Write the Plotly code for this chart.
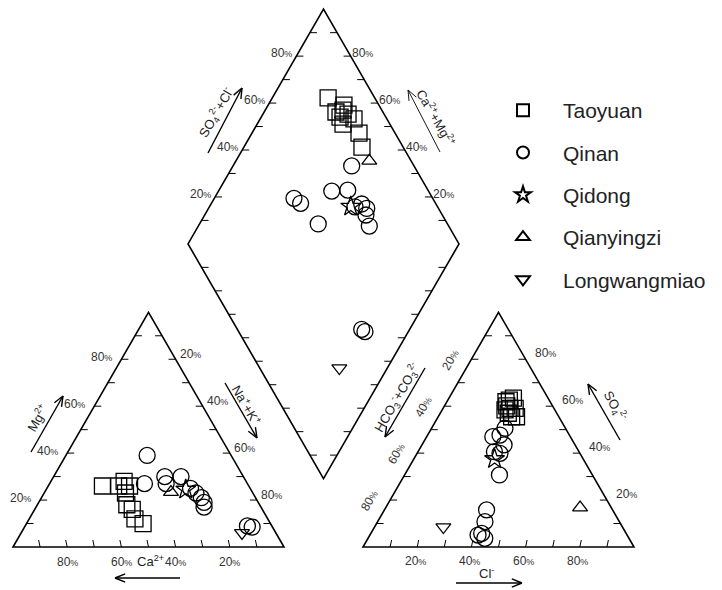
import math
import plotly.graph_objects as go

# ---------------- data (percent) ----------------
series_names = ["Taoyuan", "Qinan", "Qidong", "Qianyingzi", "Longwangmiao"]
series_symbols = ["square-open", "circle-open", "star-open", "triangle-up-open", "triangle-down-open"]
series_sizes = [16, 16, 15, 13, 13]

# cation triangle: Mg2+ and Na+ + K+ (Ca2+ = 100 - Mg - NaK)
taoyuan_mg = [26, 26, 28, 26, 23, 18, 16, 12, 10]
taoyuan_nak = [20, 26, 27, 30, 30, 33, 36, 39, 43]
qinan_mg = [39, 27, 30, 27, 30, 25, 23, 21, 19, 17, 9, 8.5]
qinan_nak = [30, 35, 41, 43, 47, 53, 56, 59, 61, 62, 82, 84]
qidong_mg = [24.5]
qidong_nak = [51.5]
qianyingzi_mg = [23.4]
qianyingzi_nak = [46.6]
longwangmiao_mg = [6]
longwangmiao_nak = [81.5]

# anion triangle: SO4 2- and Cl- (HCO3- + CO3 2- = 100 - SO4 - Cl)
taoyuan_so4 = [62.6, 63.4, 60.1, 59.1, 57.0, 55.5, 55.5, 58.4, 59.1, 61.9]
taoyuan_cl = [22.7, 23.8, 23.0, 26.6, 25.1, 28.9, 27.1, 23.2, 24.7, 21.8]
qinan_so4 = [50.6, 47.0, 47.7, 43.5, 40.6, 39.9, 30.7, 15.8, 10.8, 5.8, 3.7, 5.1]
qinan_cl = [27.1, 24.4, 26.7, 30.3, 28.2, 30.6, 35.0, 37.7, 39.6, 40.9, 43.1, 39.9]
qidong_so4 = [37.5]
qidong_cl = [29.8]
qianyingzi_so4 = [16.8]
qianyingzi_cl = [71.7]
longwangmiao_so4 = [8.5]
longwangmiao_cl = [25.4]

# diamond: Ca2+ + Mg2+ and SO4 2- + Cl-
taoyuan_camg = [79.4, 72.0, 73.5, 71.3, 70.9, 68.6, 65.4, 68.3, 60.5, 56.4]
taoyuan_so4cl = [82.8, 87.1, 82.7, 85.7, 83.1, 86.7, 87.9, 82.7, 86.7, 84.8]
qinan_camg = [56.2, 58.2, 52.5, 70.6, 67.1, 56.2, 44.4, 41.6, 40.5, 36.9, 46.3, 17.7, 16.0]
qinan_so4cl = [77.0, 64.3, 70.4, 48.8, 50.2, 52.3, 72.6, 73.5, 71.8, 70.7, 69.5, 45.9, 46.6]
qidong_camg = [47.9]
qidong_so4cl = [68.0]
qianyingzi_camg = [50.8]
qianyingzi_so4cl = [84.6]
longwangmiao_camg = [17.7]
longwangmiao_so4cl = [29.4]

tick_values = [20, 40, 60, 80]

# ---------------- geometry (canvas units) ----------------
W, HC = 722, 590
S = 271.0
H = S * math.sqrt(3) / 2
BASE = 547.0
LX0 = 13.0
RX0 = 363.0
GAP = RX0 - (LX0 + S)
BX = (LX0 + S + RX0) / 2
BY = BASE - GAP / 2 * math.sqrt(3)


def cat_xy(mg, nak):
    return ([LX0 + S * (n + m / 2) / 100 for m, n in zip(mg, nak)],
            [BASE - H * m / 100 for m in mg])


def an_xy(so4, cl):
    return ([RX0 + S * (c + s / 2) / 100 for s, c in zip(so4, cl)],
            [BASE - H * s / 100 for s in so4])


def dia_xy(camg, so4cl):
    return ([BX + S / 2 * (s - c) / 100 for c, s in zip(camg, so4cl)],
            [BY - H * (s + c) / 100 for c, s in zip(camg, so4cl)])


data = {
    "Taoyuan": (taoyuan_mg, taoyuan_nak, taoyuan_so4, taoyuan_cl, taoyuan_camg, taoyuan_so4cl),
    "Qinan": (qinan_mg, qinan_nak, qinan_so4, qinan_cl, qinan_camg, qinan_so4cl),
    "Qidong": (qidong_mg, qidong_nak, qidong_so4, qidong_cl, qidong_camg, qidong_so4cl),
    "Qianyingzi": (qianyingzi_mg, qianyingzi_nak, qianyingzi_so4, qianyingzi_cl, qianyingzi_camg, qianyingzi_so4cl),
    "Longwangmiao": (longwangmiao_mg, longwangmiao_nak, longwangmiao_so4, longwangmiao_cl, longwangmiao_camg, longwangmiao_so4cl),
}

fig = go.Figure()
for i, name in enumerate(series_names):
    mg, nak, so4, cl, camg, so4cl = data[name]
    x1, y1 = cat_xy(mg, nak)
    x2, y2 = an_xy(so4, cl)
    x3, y3 = dia_xy(camg, so4cl)
    fig.add_trace(go.Scatter(
        x=x1 + x2 + x3, y=y1 + y2 + y3, mode="markers", name=name,
        legendgroup=name,
        marker=dict(symbol=series_symbols[i], size=series_sizes[i], color="black",
                    line=dict(width=1.3, color="black")),
        hoverinfo="skip"))

shapes = []
LINE = dict(color="black", width=1.6)
TICK = dict(color="black", width=1)


def poly(pts):
    d = "M" + " L".join(f"{x:.2f},{y:.2f}" for x, y in pts) + " Z"
    shapes.append(dict(type="path", path=d, line=LINE, xref="x", yref="y"))


def seg(x0, y0, x1, y1, line):
    shapes.append(dict(type="line", x0=x0, y0=y0, x1=x1, y1=y1, line=line, xref="x", yref="y"))


# frames
poly([(LX0, BASE), (LX0 + S, BASE), (LX0 + S / 2, BASE - H)])
poly([(RX0, BASE), (RX0 + S, BASE), (RX0 + S / 2, BASE - H)])
PB = (BX, BY); PR = (BX + S / 2, BY - H); PT = (BX, BY - 2 * H); PL = (BX - S / 2, BY - H)
poly([PB, PR, PT, PL])

TL = 7
for k in range(1, 10):
    f = k / 10
    # left triangle
    px = LX0 + S * f
    seg(px, BASE, px - 1.5, BASE - TL, TICK)
    ex, ey = LX0 + S * f / 2, BASE - H * f
    seg(ex, ey, ex + TL, ey, TICK)
    ex, ey = LX0 + S - S * f / 2, BASE - H * f
    seg(ex, ey, ex - TL, ey, TICK)
    # right triangle
    px = RX0 + S * f
    seg(px, BASE, px + 1.5, BASE - TL, TICK)
    ex, ey = RX0 + S * f / 2, BASE - H * f
    seg(ex, ey, ex + TL, ey, TICK)
    ex, ey = RX0 + S - S * f / 2, BASE - H * f
    seg(ex, ey, ex - TL, ey, TICK)
    # diamond
    for (a, b, d) in [(PB, PL, 1), (PL, PT, 1), (PB, PR, -1), (PR, PT, -1)]:
        ex = a[0] + (b[0] - a[0]) * f
        ey = a[1] + (b[1] - a[1]) * f
        seg(ex, ey, ex + d * TL, ey, TICK)


def arrow(x0, y0, x1, y1, width=1.4, head=11, ang=22):
    seg(x0, y0, x1, y1, dict(color="black", width=width))
    th = math.atan2(y0 - y1, x0 - x1)
    for s in (-1, 1):
        a = th + s * math.radians(ang)
        seg(x1, y1, x1 + head * math.cos(a), y1 + head * math.sin(a), dict(color="black", width=width))


arrow(180, 578, 115, 578)            # Ca
arrow(31, 452, 63, 396)              # Mg
arrow(225, 383, 257, 438)            # Na+K
arrow(456, 583, 522, 583)            # Cl
arrow(620, 440, 588, 384)            # SO4
arrow(425, 368, 385, 437)            # HCO3+CO3
arrow(208, 153, 242, 88)             # SO4+Cl
arrow(440, 152, 408, 90, width=0.9)  # Ca+Mg

annotations = []
FONT = "Liberation Sans, Arial, sans-serif"
LBLC = "#333333"


def lab(x, y, text, size=12, angle=0, color=LBLC):
    annotations.append(dict(x=x, y=y, xref="x", yref="y", text=text, showarrow=False,
                            textangle=angle, font=dict(family=FONT, size=size, color=color),
                            xanchor="center", yanchor="middle"))


def pct(v):
    return f"{v}<span style='font-size:9px'>%</span>"


for v in tick_values:
    f = v / 100
    # left triangle: Ca (bottom), Mg (left edge), Na+K (right edge)
    lab(LX0 + S * (1 - f), 562, pct(v))
    lab(LX0 + S * f / 2 - 20, BASE - H * f - 2, pct(v))
    lab(LX0 + S * (1 + f) / 2 + 15, BASE - (1 - f) * H - 5, pct(v))
    # right triangle: Cl (bottom), SO4 (right edge), HCO3 (left edge)
    lab(RX0 + S * f - 2, 561, pct(v))
    lab(RX0 + S * (1 - f / 2) + 20, BASE - f * H - 6, pct(v))
    lab(RX0 + (1 - f) * S / 2 - 21, BASE - (1 - f) * H + 1, pct(v), angle=-60)
    # diamond: SO4+Cl (upper-left), Ca+Mg (upper-right)
    lab(PL[0] + f * S / 2 - 15, PL[1] - f * H - 3, pct(v))
    lab(PR[0] - f * S / 2 + 12, PR[1] - f * H - 3, pct(v))

lab(150, 561, "Ca<sup>2+</sup>", size=13, color="#222")
lab(37, 418, "Mg<sup>2+</sup>", size=13, angle=-60, color="#222")
lab(247, 405, "Na<sup>+</sup>+K<sup>+</sup>", size=13, angle=60, color="#222")
lab(486, 573, "Cl<sup>-</sup>", size=13, color="#222")
lab(615, 406, "SO<sub>4</sub><sup>2-</sup>", size=13, angle=60, color="#222")
lab(397, 398, "HCO<sub>3</sub><sup>-</sup>+CO<sub>3</sub><sup>2-</sup>", size=13, angle=-60, color="#222")
lab(216, 113, "SO<sub>4</sub><sup>2-</sup>+Cl<sup>-</sup>", size=13, angle=-60, color="#222")
lab(436, 117, "Ca<sup>2+</sup>+Mg<sup>2+</sup>", size=13, angle=60, color="#222")

fig.update_layout(
    width=W, height=HC, margin=dict(l=0, r=0, t=0, b=0),
    paper_bgcolor="white", plot_bgcolor="white",
    xaxis=dict(range=[0, W], visible=False, fixedrange=True),
    yaxis=dict(range=[HC, 0], visible=False, fixedrange=True),
    shapes=shapes, annotations=annotations,
    showlegend=True,
    legend=dict(x=483 / W, y=1 - 90 / HC, xanchor="left", yanchor="top",
                font=dict(family=FONT, size=21, color="#222"),
                itemsizing="constant", itemwidth=70, tracegroupgap=12,
                bgcolor="rgba(0,0,0,0)", borderwidth=0),
)

fig.write_html("out.html")
